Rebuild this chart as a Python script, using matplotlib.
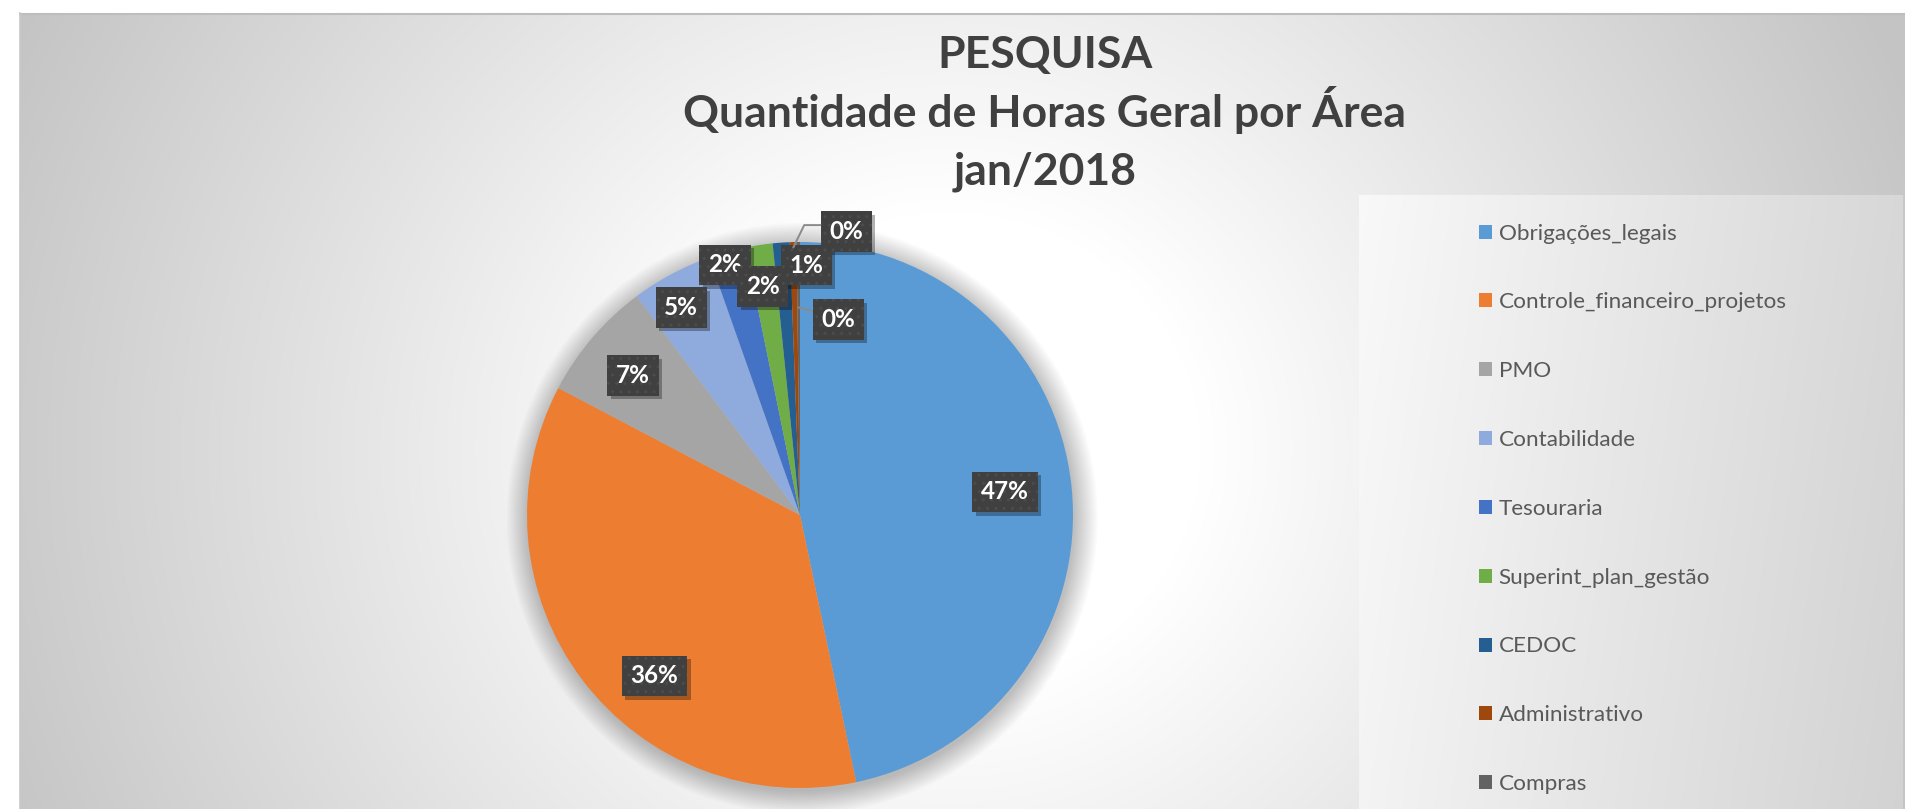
import numpy as np
import matplotlib.pyplot as plt
from matplotlib.patches import Circle

##################################################
# data
areas = ['Obrigações_legais', 'Controle_financeiro_projetos', 'PMO', 'Contabilidade',
         'Tesouraria', 'Superint_plan_gestão', 'CEDOC', 'Administrativo', 'Compras']
share = [46.7, 36.0, 7.1, 4.8, 2.2, 1.6, 1.0, 0.4, 0.2]
pct_labels = ['47%', '36%', '7%', '5%', '2%', '2%', '1%', '0%', '0%']
colors = ['#5B9BD5', '#ED7D31', '#A5A5A5', '#8FAADC', '#4472C4',
          '#70AD47', '#255E91', '#9E480E', '#636363']
title_lines = ['PESQUISA', 'Quantidade de Horas Geral por Área', 'jan/2018']

# label placement: radius (pie units) and angle nudge (deg) per slice
lab_r = [0.755, 0.795, 0.797, 0.876, 0.956, 0.848, 0.916, 1.052, 0.73]
lab_dang = [0.5, 10.8, 0.6, 1.7, 1.2, 0.6, -5.4, -10.7, -11.4]
# leader lines: (radius of anchor on slice, connection style) or None
leaders = [None] * 7 + [(0.98, 'angle,angleA=0,angleB=64'), (0.76, 'arc3')]

W, H = 1906, 809
R = 273.0          # pie radius in px
CX, CY = 800, 515  # pie centre in px (from top)
FONT = 'Lato'


##################################################
def gradient_background(fig):
	bg = fig.add_axes([0, 0, 1, 1], zorder=0)
	bg.set_xlim(0, W)
	bg.set_ylim(H, 0)
	bg.axis('off')

	# chart area: radial grey -> white
	yy, xx = np.mgrid[13:H, 20:W]
	d = np.hypot(xx - 950, (yy - 450) * 1.05)
	v = 1 - 0.23 * np.clip((d - 250) / 780, 0, 1)
	bg.imshow(np.dstack([v, v, v]), extent=(20, W, H, 13), aspect='auto', zorder=0)
	bg.plot([20, W], [13.5, 13.5], color='#bdbdbd', lw=1.5, zorder=1)
	bg.plot([20.5, 20.5], [13, H], color='#c8c8c8', lw=1.2, zorder=1)

	# legend panel
	yy, xx = np.mgrid[195:H, 1359:1903]
	tx = (xx - 1359) / 544.0
	ty = (yy - 195) / 614.0
	v = 0.975 - 0.13 * tx - 0.02 * ty
	bg.imshow(np.dstack([v, v, v]), extent=(1359, 1903, H, 195), aspect='auto', zorder=2)
	bg.set_xlim(0, W)
	bg.set_ylim(H, 0)


##################################################
def main():
	fig = plt.figure(figsize=(W / 100, H / 100), dpi=100)
	gradient_background(fig)

	ax = fig.add_axes([0, 0, 1, 1], zorder=1)
	ax.patch.set_visible(False)

	# soft shadow behind the pie
	for k in range(16):
		ax.add_patch(Circle((0.008, -0.012), 1.0 + 0.0055 * k, color='black',
		                    alpha=0.017, lw=0, zorder=0))

	wedges, _ = ax.pie(share, colors=colors, startangle=90, counterclock=False,
	                   radius=1, wedgeprops=dict(linewidth=0, zorder=1))

	ax.set_aspect('auto')
	ax.set_xlim(-CX / R, (W - CX) / R)
	ax.set_ylim(-(H - CY) / R, CY / R)
	ax.axis('off')

	box = dict(boxstyle='square,pad=0.36', fc='#404040', ec='#4c4c4c', lw=0, hatch='..')
	shadow = dict(boxstyle='square,pad=0.36', fc='black', alpha=0.3, lw=0)
	for i, w in enumerate(wedges):
		mid = (w.theta1 + w.theta2) / 2
		ang = np.deg2rad(mid + lab_dang[i])
		x, y = lab_r[i] * np.cos(ang), lab_r[i] * np.sin(ang)

		ax.annotate(pct_labels[i], (x, y), xytext=(2.5, -2.5), textcoords='offset points',
		            ha='center', va='center', fontsize=17.5, fontweight='bold',
		            family=FONT, color='none', bbox=shadow, zorder=3)

		arrow = None
		anchor = (x, y)
		if leaders[i] is not None:
			r0, style = leaders[i]
			a0 = np.deg2rad(mid)
			anchor = (r0 * np.cos(a0), r0 * np.sin(a0))
			arrow = dict(arrowstyle='-', color='#8a8a8a', lw=1.4, connectionstyle=style,
			             relpos=(0, 0.78), shrinkA=0, shrinkB=0)
		ax.annotate(pct_labels[i], anchor, xytext=(x, y), textcoords='data',
		            ha='center', va='center', fontsize=17.5, fontweight='bold',
		            family=FONT, color='white', bbox=box, arrowprops=arrow, zorder=4)

	# title
	for line, yb in zip(title_lines, [68, 127, 184]):
		fig.text(1045 / W, 1 - yb / H, line, ha='center', va='baseline',
		         fontsize=32, fontweight='bold', family=FONT, color='#404040', zorder=5)

	# legend
	ax.legend(wedges, areas, loc='upper left',
	          bbox_to_anchor=(1479 / W, 1 - 223.5 / H), bbox_transform=fig.transFigure,
	          frameon=False, prop={'family': FONT, 'size': 16.2}, labelcolor='#595959',
	          handlelength=0.58, handleheight=0.58, handletextpad=0.3,
	          labelspacing=2.17, borderpad=0, borderaxespad=0)

	fig.savefig('out.png', dpi=100)


##################################################
if __name__ == '__main__':
	main()
